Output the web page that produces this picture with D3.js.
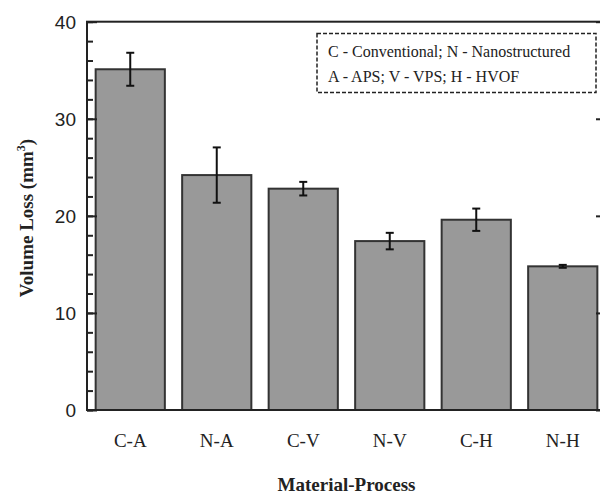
<!DOCTYPE html>
<html>
<head>
<meta charset="utf-8">
<script src="https://d3js.org/d3.v7.min.js"></script>
<style>
  body { margin: 0; background: #fff; }
  svg { display: block; }
</style>
</head>
<body>
<svg></svg>
<script>
    // data
    const categories = ['C-A', 'N-A', 'C-V', 'N-V', 'C-H', 'N-H'];
    const volumeLoss = [35.1, 24.2, 22.8, 17.4, 19.6, 14.8];
    const errors = [1.7, 2.85, 0.7, 0.85, 1.15, 0.15];
    const yTicks = [0, 10, 20, 30, 40];
    const legendLines = ['C - Conventional; N - Nanostructured', 'A - APS; V - VPS; H - HVOF'];

    const width = 600;
    const height = 494;
    const plotL = 87, plotR = 606, plotT = 21.7, plotB = 410;

    const svg = d3.select('svg')
        .attr('width', width).attr('height', height);

    const x = d3.scaleBand()
        .domain(categories)
        .range([plotL, plotR])
        .paddingInner(0.2)
        .paddingOuter(0.1);

    const y = d3.scaleLinear()
        .domain([0, 40])
        .range([plotB, plotT]);

    // bars
    svg.append('g').selectAll('rect')
        .data(categories)
        .enter().append('rect')
        .attr('x', d => x(d))
        .attr('y', (d, i) => y(volumeLoss[i]))
        .attr('width', x.bandwidth())
        .attr('height', (d, i) => y(0) - y(volumeLoss[i]))
        .style('fill', '#999999')
        .style('stroke', '#333')
        .style('stroke-width', 2);

    // error bars
    const eb = svg.append('g').selectAll('g')
        .data(categories)
        .enter().append('g')
        .style('stroke', '#111')
        .style('stroke-width', 2);
    const cx = d => x(d) + x.bandwidth() / 2;
    eb.append('line')
        .attr('x1', cx).attr('x2', cx)
        .attr('y1', (d, i) => y(volumeLoss[i] + errors[i]))
        .attr('y2', (d, i) => y(volumeLoss[i] - errors[i]));
    eb.append('line')
        .attr('x1', d => cx(d) - 4).attr('x2', d => cx(d) + 4)
        .attr('y1', (d, i) => y(volumeLoss[i] + errors[i]))
        .attr('y2', (d, i) => y(volumeLoss[i] + errors[i]));
    eb.append('line')
        .attr('x1', d => cx(d) - 4).attr('x2', d => cx(d) + 4)
        .attr('y1', (d, i) => y(volumeLoss[i] - errors[i]))
        .attr('y2', (d, i) => y(volumeLoss[i] - errors[i]));

    // frame
    svg.append('rect')
        .attr('x', plotL).attr('y', plotT)
        .attr('width', plotR - plotL).attr('height', plotB - plotT)
        .style('fill', 'none')
        .style('stroke', '#222')
        .style('stroke-width', 2);

    // left and right axes: major + minor ticks pointing inward
    const minor = d3.range(0, 41, 2);
    [d3.axisRight(y).tickValues(minor).tickSize(6).tickFormat(''),
     d3.axisRight(y).tickValues(yTicks).tickSize(10).tickFormat('')].forEach(ax => {
        const g = svg.append('g').attr('transform', `translate(${plotL},0)`).call(ax);
        g.select('.domain').remove();
        g.selectAll('line').style('stroke', '#222').style('stroke-width', 2);
    });
    [d3.axisLeft(y).tickValues(minor).tickSize(6).tickFormat(''),
     d3.axisLeft(y).tickValues(yTicks).tickSize(10).tickFormat('')].forEach(ax => {
        const g = svg.append('g').attr('transform', `translate(${plotR},0)`).call(ax);
        g.select('.domain').remove();
        g.selectAll('line').style('stroke', '#222').style('stroke-width', 2);
    });

    // y tick labels
    svg.append('g').selectAll('text')
        .data(yTicks)
        .enter().append('text')
        .attr('x', 76)
        .attr('y', d => y(d))
        .attr('dy', '0.36em')
        .attr('text-anchor', 'end')
        .style('font-family', '"Liberation Sans", Arial, sans-serif')
        .style('font-size', '19px')
        .style('fill', '#222')
        .text(d => d);

    // x tick labels
    svg.append('g').selectAll('text')
        .data(categories)
        .enter().append('text')
        .attr('x', cx)
        .attr('y', 447)
        .attr('text-anchor', 'middle')
        .style('font-family', '"Liberation Serif", "Times New Roman", serif')
        .style('font-size', '19px')
        .style('fill', '#222')
        .text(d => d);

    // axis titles
    svg.append('text')
        .attr('x', (plotL + plotR) / 2)
        .attr('y', 491)
        .attr('text-anchor', 'middle')
        .style('font-family', '"Liberation Serif", "Times New Roman", serif')
        .style('font-size', '19px')
        .style('font-weight', 'bold')
        .style('fill', '#222')
        .text('Material-Process');

    const yt = svg.append('text')
        .attr('transform', 'translate(33,218) rotate(-90)')
        .attr('text-anchor', 'middle')
        .style('font-family', '"Liberation Serif", "Times New Roman", serif')
        .style('font-size', '19px')
        .style('font-weight', 'bold')
        .style('fill', '#222');
    yt.append('tspan').text('Volume Loss (mm');
    yt.append('tspan').attr('dy', -8).style('font-size', '12px').text('3');
    yt.append('tspan').attr('dy', 8).text(')');

    // legend box
    svg.append('rect')
        .attr('x', 317).attr('y', 33.5)
        .attr('width', 279).attr('height', 59)
        .style('fill', 'none')
        .style('stroke', '#222')
        .style('stroke-width', 1.5)
        .style('stroke-dasharray', '4,2');
    svg.append('g').selectAll('text')
        .data(legendLines)
        .enter().append('text')
        .attr('x', 328)
        .attr('y', (d, i) => 57 + i * 25)
        .style('font-family', '"Liberation Serif", "Times New Roman", serif')
        .style('font-size', '16px')
        .style('fill', '#222')
        .text(d => d);
</script>
</body>
</html>
